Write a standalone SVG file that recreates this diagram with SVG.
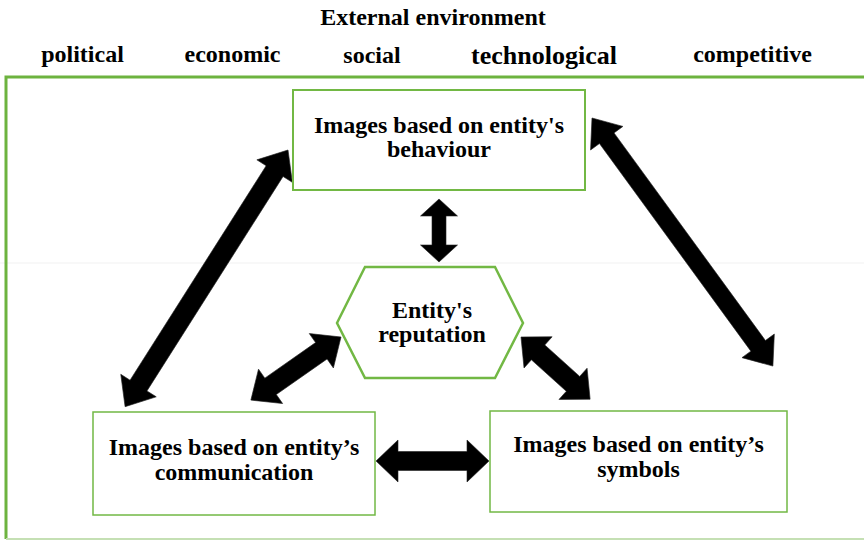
<svg xmlns="http://www.w3.org/2000/svg" width="864" height="541" viewBox="0 0 864 541">
<style>
text{font-family:"Liberation Serif","Times New Roman",serif;font-weight:bold;fill:#000;text-anchor:middle}
.hdr{font-size:24px}
.lbl{font-size:24px}
.node{fill:#fff;stroke:#72B844;stroke-width:2}
.arr{fill:#000;stroke:#222;stroke-width:0.6}
</style>
<rect width="864" height="541" fill="#fff"/>
<g id="environment">
<line x1="0" y1="263" x2="864" y2="263" stroke="#f1f1f1" stroke-width="1"/>
<path d="M6,539 V77 H864" fill="none" stroke="#6DB33F" stroke-width="3"/>
<line x1="6" y1="539" x2="864" y2="539" stroke="#C5E0B4" stroke-width="2"/>
<text class="hdr" x="433" y="25">External environment</text>
<text class="hdr" x="82.5" y="62">political</text>
<text class="hdr" x="232.5" y="62">economic</text>
<text class="hdr" x="372" y="63">social</text>
<text class="hdr" x="544" y="64" style="font-size:26px">technological</text>
<text class="hdr" x="752.5" y="62">competitive</text>
</g>
<g id="connectors">
<polygon class="arr" transform="translate(439,199) rotate(90)" points="0,0 17,-18.5 17,-7 46,-7 46,-18.5 63,0 46,18.5 46,7 17,7 17,18.5"/>
<polygon class="arr" transform="translate(376,461)" points="0,0 22,-21 22,-9.5 91,-9.5 91,-21 113,0 91,21 91,9.5 22,9.5 22,21"/>
<polygon class="arr" transform="translate(288,150) rotate(122.4)" points="0,0 25,-21 25,-10 279,-10 279,-21 304,0 279,21 279,10 25,10 25,21"/>
<polygon class="arr" transform="translate(592,118) rotate(53.9)" points="0,0 25,-20 25,-9 282,-9 282,-20 307,0 282,20 282,9 25,9 25,20"/>
<polygon class="arr" transform="translate(341,337) rotate(145)" points="0,0 24,-21 24,-10 86,-10 86,-21 110,0 86,21 86,10 24,10 24,21"/>
<polygon class="arr" transform="translate(521,337) rotate(42)" points="0,0 23,-21 23,-10 70,-10 70,-21 93,0 70,21 70,10 23,10 23,21"/>
</g>
<g id="behaviour">
<rect class="node" x="293" y="90" width="292" height="100"/>
<text class="lbl" x="439" y="133">Images based on entity's</text>
<text class="lbl" x="439" y="157">behaviour</text>
</g>
<g id="reputation">
<polygon class="node" style="stroke-width:2.5" points="337,323 365,267 495,267 523,323 495,378 365,378"/>
<text class="lbl" x="432" y="318">Entity's</text>
<text class="lbl" x="432" y="342">reputation</text>
</g>
<g id="communication">
<rect class="node" style="stroke-width:1.5" x="93" y="412" width="282" height="103"/>
<text class="lbl" x="234" y="455">Images based on entity’s</text>
<text class="lbl" x="234" y="480">communication</text>
</g>
<g id="symbols">
<rect class="node" style="stroke-width:1.5" x="490" y="411" width="297" height="101"/>
<text class="lbl" x="638.5" y="452">Images based on entity’s</text>
<text class="lbl" x="638.5" y="477">symbols</text>
</g>
</svg>
